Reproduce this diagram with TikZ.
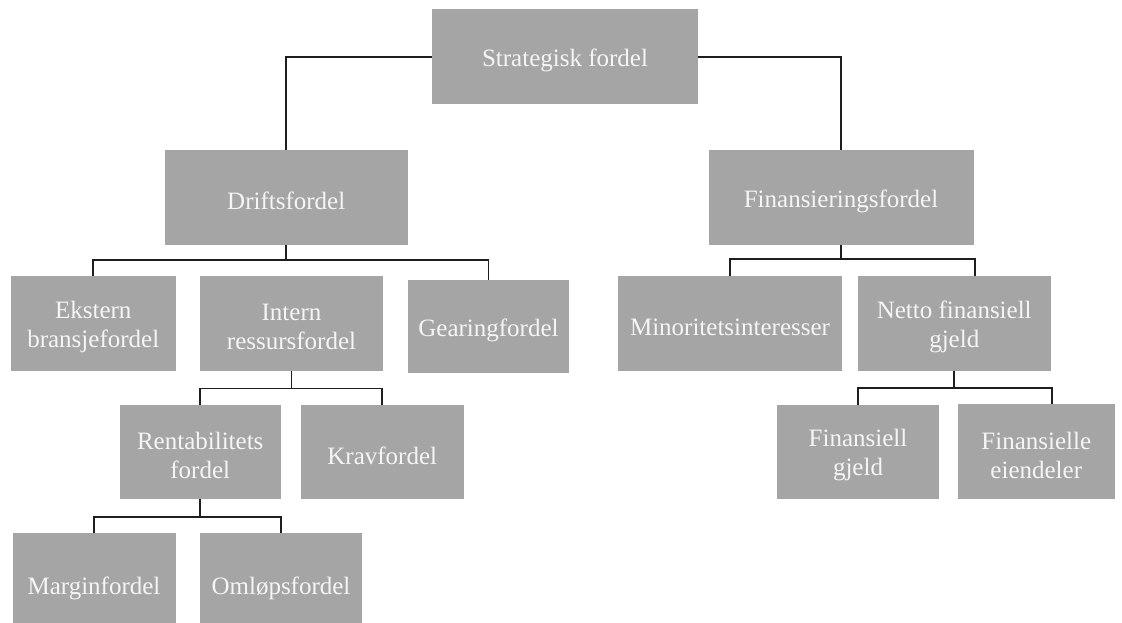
\documentclass[tikz,border=0pt]{standalone}
\usepackage{fontspec}
\setmainfont{Liberation Serif}
\usetikzlibrary{calc}
\definecolor{boxgrey}{HTML}{A5A5A5}
\definecolor{boxtext}{HTML}{F5F5F5}
\definecolor{linkcol}{HTML}{1E1E1E}
% \orgbox{name}{cx}{cy}{width}{height}{text}
\newcommand{\orgbox}[6]{%
  \node[box, minimum width=#4pt, minimum height=#5pt] (#1) at (#2,#3) {};
  \node[boxlabel] at ($(#1.center)+(0,3.5)$) {#6};}
\begin{document}
\begin{tikzpicture}[x=1pt,y=-1pt,
  box/.style={fill=boxgrey, inner sep=0pt},
  boxlabel/.style={text=boxtext, inner sep=0pt, align=center,
    font=\fontsize{25}{29}\selectfont},
  link/.style={draw=linkcol, line width=1.6pt}]
\useasboundingbox (0,0) rectangle (1122,623);

% boxes
\orgbox{S}{565}{56.75}{266}{94.5}{Strategisk fordel}
\orgbox{D}{286.25}{197.5}{242.5}{95}{Driftsfordel}
\orgbox{F}{841}{197.5}{265}{95}{Finansieringsfordel}
\orgbox{E}{93.25}{323.5}{164.5}{95}{Ekstern\\bransjefordel}
\orgbox{I}{291.5}{323.5}{183}{95}{Intern\\ressursfordel}
\orgbox{G}{488.5}{326.5}{161}{93}{Gearingfordel}
\orgbox{M}{730}{323.5}{224}{95}{Minoritetsinteresser}
\orgbox{N}{954.25}{323.5}{193.5}{95}{Netto finansiell\\gjeld}
\orgbox{R}{200.25}{452}{161.5}{94}{Rentabilitets\\fordel}
\orgbox{K}{382.25}{452}{163.5}{94}{Kravfordel}
\orgbox{FG}{858}{452}{162}{94}{Finansiell\\gjeld}
\orgbox{FE}{1036.25}{451.5}{157.5}{95}{Finansielle\\eiendeler}
\orgbox{Mg}{94}{585}{163}{104}{Marginfordel}
\orgbox{O}{281}{585}{162}{104}{Omløpsfordel}

% bus lines
\coordinate (dbus) at (0,260);
\coordinate (fbus) at (0,259);
\coordinate (ibus) at (0,388.5);
\coordinate (nbus) at (0,388);
\coordinate (rbus) at (0,517);

% top level
\draw[link] (S.west) -| (D.north);
\draw[link] (S.east) -| (F.north);

% Driftsfordel
\draw[link] (D.south) -- (D.south |- dbus);
\draw[link] (E.north) |- (E.north |- dbus) -| (G.north);

% Finansieringsfordel
\draw[link] (F.south) -- (F.south |- fbus);
\coordinate (Ntop) at ($(N.north)+(21,0)$);
\draw[link] (M.north) |- (M.north |- fbus) -| (Ntop);

% Intern ressursfordel
\draw[link] (I.south) -- (I.south |- ibus);
\draw[link] (R.north) |- (R.north |- ibus) -| (K.north);

% Netto finansiell gjeld
\draw[link] (N.south) -- (N.south |- nbus);
\coordinate (FEtop) at ($(FE.north)+(15.5,0)$);
\draw[link] (FG.north) |- (FG.north |- nbus) -| (FEtop);

% Rentabilitets fordel
\draw[link] (R.south) -- (R.south |- rbus);
\draw[link] (Mg.north) |- (Mg.north |- rbus) -| (O.north);
\end{tikzpicture}
\end{document}
